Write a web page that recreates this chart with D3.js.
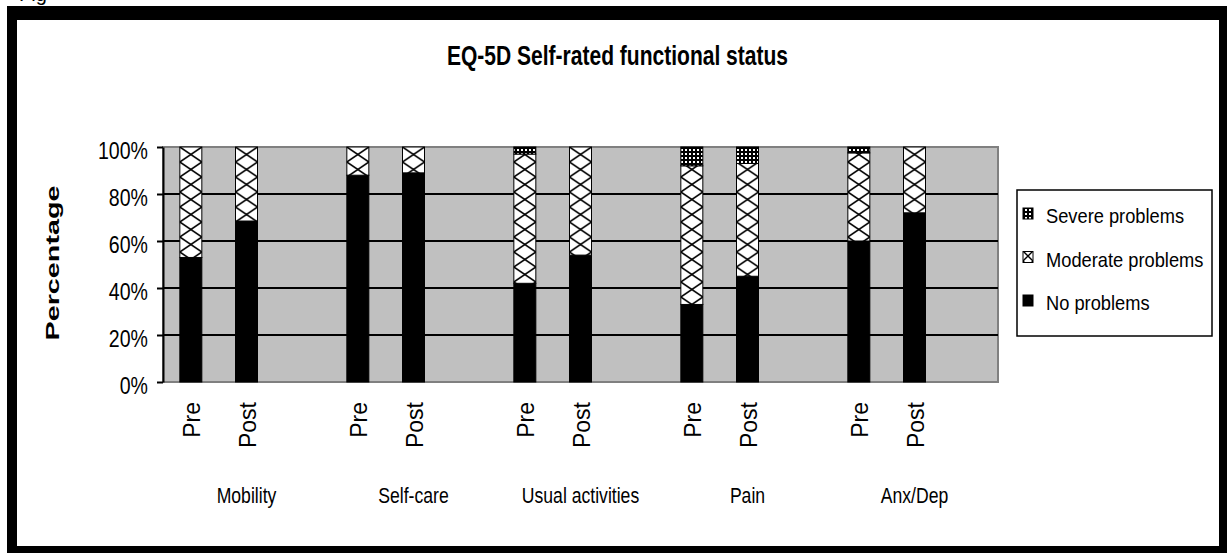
<!DOCTYPE html>
<html><head><meta charset="utf-8">
<script src="https://cdn.jsdelivr.net/npm/d3@7"></script>
<style>html,body{margin:0;padding:0;background:#fff;overflow:hidden}</style>
</head><body><svg id="c" width="1227" height="553"></svg>
<script>
// ---------------- data ----------------
const categories = ["Mobility", "Self-care", "Usual activities", "Pain", "Anx/Dep"];
const timepoints = ["Pre", "Post"];
// order: Mobility Pre, Mobility Post, Self-care Pre, Self-care Post, ...
const noProblems       = [53, 68.5, 88, 89, 42, 54, 33, 45, 60, 72];
const moderateProblems = [47, 31.5, 12, 11, 55, 46, 59, 48, 37.5, 28];
const severeProblems   = [0, 0, 0, 0, 3, 0, 8, 7, 2.5, 0];
const yTicks = [0, 20, 40, 60, 80, 100];
const legendNames = ["Severe problems", "Moderate problems", "No problems"];
const titleText = "EQ-5D Self-rated functional status";
const yAxisLabel = "Percentage";

// ---------------- setup ----------------
const FONT = "'Liberation Sans', Arial, Helvetica, sans-serif";
const W = 1227, H = 553;
const svg = d3.select("#c");
const defs = svg.append("defs");

function condense(sel, f) {
  sel.each(function () {
    const w = this.getComputedTextLength();
    this.setAttribute("textLength", w * f);
    this.setAttribute("lengthAdjust", "spacingAndGlyphs");
  });
}

svg.append("rect").attr("width", W).attr("height", H).attr("fill", "#fff");
svg.append("text").attr("x", 19).attr("y", 1).attr("font-family", FONT)
  .attr("font-size", 20).attr("fill", "#000").text("Fig");

// outer frame
svg.append("rect").attr("x", 7).attr("y", 6).attr("width", W - 7).attr("height", H - 6).attr("fill", "#000");
svg.append("rect").attr("x", 17).attr("y", 20).attr("width", 1219 - 17).attr("height", 546 - 20).attr("fill", "#fff");

const plot = { left: 163, right: 998, top: 147, bottom: 382 };
const slots = categories.flatMap(c => [c + "|Pre", c + "|Post", c + "|gap"]);
const x = d3.scaleBand().domain(slots).range([plot.left, plot.right])
  .paddingInner(0.605).paddingOuter(0.3025);
const y = d3.scaleLinear().domain([0, 100]).range([plot.bottom, plot.top]);
const bw = x.bandwidth();

const rows = categories.flatMap((c, ci) => timepoints.map((t, ti) => ({
  cat: c, time: t, key: c + "|" + t,
  no: noProblems[ci * 2 + ti], mod: moderateProblems[ci * 2 + ti], sev: severeProblems[ci * 2 + ti]
})));
const stack = d3.stack().keys(["no", "mod", "sev"])(rows);

// patterns
const sevPat = defs.append("pattern").attr("id", "sev").attr("patternUnits", "userSpaceOnUse")
  .attr("width", 4).attr("height", 4);
sevPat.append("rect").attr("width", 4).attr("height", 4).attr("fill", "#000");
sevPat.append("rect").attr("x", 1).attr("y", 1).attr("width", 2).attr("height", 2).attr("fill", "#fff");

rows.forEach((r, i) => {
  const p = defs.append("pattern").attr("id", "mod" + i).attr("patternUnits", "userSpaceOnUse")
    .attr("x", x(r.key)).attr("y", y(100)).attr("width", bw).attr("height", 15);
  p.append("rect").attr("width", bw).attr("height", 15).attr("fill", "#fff");
  p.append("path").attr("d", `M0,0L${bw},15M${bw},0L0,15`).attr("stroke", "#000")
    .attr("stroke-width", 1.6).attr("fill", "none");
});
const lp = defs.append("pattern").attr("id", "modLeg").attr("patternUnits", "userSpaceOnUse")
  .attr("x", 1023).attr("y", 251).attr("width", 10).attr("height", 10);
lp.append("rect").attr("width", 10).attr("height", 10).attr("fill", "#fff");
lp.append("path").attr("d", "M0,0L10,10M10,0L0,10").attr("stroke", "#000").attr("stroke-width", 1.4);

// plot area
svg.append("rect").attr("x", plot.left).attr("y", plot.top)
  .attr("width", plot.right - plot.left).attr("height", plot.bottom - plot.top)
  .attr("fill", "#c0c0c0").attr("stroke", "#808080").attr("stroke-width", 2);

// gridlines
svg.append("g").selectAll("line").data(yTicks.filter(d => d > 0 && d < 100)).join("line")
  .attr("x1", plot.left).attr("x2", plot.right)
  .attr("y1", d => y(d)).attr("y2", d => y(d))
  .attr("stroke", "#000").attr("stroke-width", 2);

// bars
const fills = {
  no: () => "#000",
  mod: (d, i) => `url(#mod${i})`,
  sev: () => "url(#sev)"
};
stack.forEach(s => {
  svg.append("g").selectAll("rect").data(s).join("rect")
    .attr("x", d => x(d.data.key))
    .attr("width", bw)
    .attr("y", d => y(d[1]))
    .attr("height", d => y(d[0]) - y(d[1]))
    .attr("fill", (d, i) => fills[s.key](d, i))
    .attr("stroke", "#000").attr("stroke-width", 1)
    .attr("display", d => (d[1] - d[0]) > 0 ? null : "none");
});

// y axis
const yAxis = svg.append("g").attr("transform", `translate(${plot.left},0)`)
  .call(d3.axisLeft(y).tickValues(yTicks).tickFormat(d => d + "%").tickSize(6).tickSizeOuter(0));
yAxis.select(".domain").attr("stroke", "#000").attr("stroke-width", 2);
yAxis.selectAll(".tick line").attr("stroke", "#000").attr("stroke-width", 2);
yAxis.selectAll(".tick text").attr("font-family", FONT).attr("font-size", 23).attr("fill", "#000")
  .attr("x", -15).attr("dy", "0.52em").call(condense, 0.85);

// x axis (Pre/Post labels)
const xAxis = svg.append("g").attr("transform", `translate(0,${plot.bottom})`)
  .call(d3.axisBottom(x).tickValues(rows.map(r => r.key)).tickFormat(k => k.split("|")[1]).tickSize(0));
xAxis.select(".domain").remove();
xAxis.selectAll(".tick text").attr("font-family", FONT).attr("font-size", 23).attr("fill", "#000")
  .attr("transform", "rotate(-90)").attr("text-anchor", "end")
  .attr("x", -20).attr("y", 9).attr("dy", 0);

// category labels
svg.append("g").selectAll("text").data(categories).join("text")
  .attr("x", c => x(c + "|Post") + bw / 2).attr("y", 503)
  .attr("text-anchor", "middle").attr("font-family", FONT).attr("font-size", 22).attr("fill", "#000")
  .text(c => c).call(condense, 0.8);

// title
svg.append("text").attr("x", 617.5).attr("y", 65).attr("text-anchor", "middle")
  .attr("font-family", FONT).attr("font-size", 28).attr("font-weight", "bold").attr("fill", "#000")
  .text(titleText).attr("textLength", 341).attr("lengthAdjust", "spacingAndGlyphs");

// y label
svg.append("text").attr("transform", "translate(59,263) rotate(-90)").attr("text-anchor", "middle")
  .attr("font-family", FONT).attr("font-size", 18).attr("font-weight", "bold").attr("fill", "#000")
  .text(yAxisLabel).attr("textLength", 155).attr("lengthAdjust", "spacingAndGlyphs");

// legend
const leg = svg.append("g");
leg.append("rect").attr("x", 1017).attr("y", 190).attr("width", 195).attr("height", 146)
  .attr("fill", "#fff").attr("stroke", "#000").attr("stroke-width", 1.5);
const legFills = ["url(#sev)", "url(#modLeg)", "#000"];
const legBase = [223, 266.5, 310];
legendNames.forEach((n, i) => {
  leg.append("rect").attr("x", 1023).attr("y", legBase[i] - 15).attr("width", 10).attr("height", 11)
    .attr("fill", legFills[i]).attr("stroke", "#000").attr("stroke-width", 1);
  leg.append("text").attr("x", 1046).attr("y", legBase[i]).attr("font-family", FONT)
    .attr("font-size", 21).attr("fill", "#000").text(n).call(condense, 0.87);
});
</script></body></html>
